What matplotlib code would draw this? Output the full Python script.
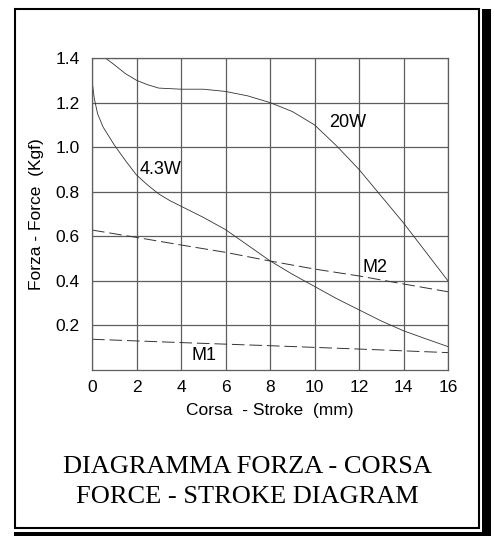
import numpy as np
import matplotlib
matplotlib.use('Agg')
import matplotlib.pyplot as plt
from matplotlib.patches import Rectangle

# curves
x_20w = [0.6, 1, 1.5, 2, 2.5, 3, 4, 5, 6, 7, 8, 9, 10, 11, 12, 13, 14, 15, 16]
y_20w = [1.40, 1.37, 1.33, 1.30, 1.28, 1.265, 1.26, 1.26, 1.25, 1.23, 1.20, 1.16,
         1.10, 1.005, 0.90, 0.78, 0.66, 0.53, 0.40]

x_43w = [0, 0.1, 0.25, 0.5, 1, 1.5, 2, 2.5, 3, 3.5, 4, 5, 6, 7, 8, 9, 10, 11,
         12, 13, 14, 15, 16]
y_43w = [1.30, 1.22, 1.15, 1.09, 1.01, 0.94, 0.875, 0.83, 0.79, 0.76, 0.735,
         0.685, 0.63, 0.56, 0.49, 0.43, 0.375, 0.32, 0.27, 0.22, 0.176, 0.14, 0.105]

x_m2 = [0, 2, 4, 6, 8, 10, 12, 14, 16]
y_m2 = [0.628, 0.595, 0.561, 0.528, 0.489, 0.453, 0.422, 0.386, 0.351]

x_m1 = [0, 4, 8, 12, 16]
y_m1 = [0.138, 0.123, 0.109, 0.094, 0.078]

xticks = [0, 2, 4, 6, 8, 10, 12, 14, 16]
yticks = [0.2, 0.4, 0.6, 0.8, 1.0, 1.2, 1.4]

W, H = 494, 536
fig = plt.figure(figsize=(W / 100, H / 100), dpi=100)

# frame with shadow, drawn in pixel coords
bg = fig.add_axes([0, 0, 1, 1])
bg.set_xlim(0, W)
bg.set_ylim(H, 0)
bg.axis('off')
bg.add_patch(Rectangle((15, 9), 464, 519, fill=False, ec='black', lw=1.5))
bg.add_patch(Rectangle((482, 9), 8.5, H - 9, fc='black', ec='none'))
bg.add_patch(Rectangle((14, 531.5), 476.5, 10, fc='black', ec='none'))

sans = 'Liberation Sans'
gridc = '#5e5e5e'
ax = fig.add_axes([92 / W, 1 - 370 / H, (448 - 92) / W, (370 - 58) / H])
ax.set_xlim(0, 16)
ax.set_ylim(0, 1.4)
ax.set_xticks(xticks)
ax.set_yticks(yticks)
ax.set_xticklabels([str(v) for v in xticks], family=sans, fontsize=12.5)
ax.set_yticklabels(['%.1f' % v for v in yticks], family=sans, fontsize=12.5)
ax.tick_params(length=0)
ax.tick_params(axis='y', pad=9)
ax.tick_params(axis='x', pad=7)
ax.grid(True, color=gridc, lw=0.9)
for s in ax.spines.values():
    s.set_color(gridc)
    s.set_linewidth(0.9)

lc = '#333333'
ax.plot(x_20w, y_20w, color=lc, lw=0.6)
ax.plot(x_43w, y_43w, color=lc, lw=0.6)
ax.plot(x_m2, y_m2, color=lc, lw=0.7, dashes=(13, 5))
ax.plot(x_m1, y_m1, color=lc, lw=0.7, dashes=(13, 5))

ax.text(11.48, 1.11, '20W', family=sans, fontsize=13, ha='center', va='center')
ax.text(3.06, 0.90, '4.3W', family=sans, fontsize=13, ha='center', va='center')
ax.text(12.72, 0.46, 'M2', family=sans, fontsize=13, ha='center', va='center')
ax.text(5.05, 0.067, 'M1', family=sans, fontsize=13, ha='center', va='center')

ax.set_xlabel('Corsa  - Stroke  (mm)', family=sans, fontsize=12.5, labelpad=6)
ax.set_ylabel('Forza - Force  (Kgf)', family=sans, fontsize=12.5, labelpad=8)

fig.text(247 / W, 1 - 467 / H, 'DIAGRAMMA FORZA - CORSA', family='Liberation Serif',
         fontsize=19, ha='center', va='center')
fig.text(247 / W, 1 - 497 / H, 'FORCE - STROKE DIAGRAM', family='Liberation Serif',
         fontsize=19, ha='center', va='center')

fig.savefig('out.png', dpi=100)
